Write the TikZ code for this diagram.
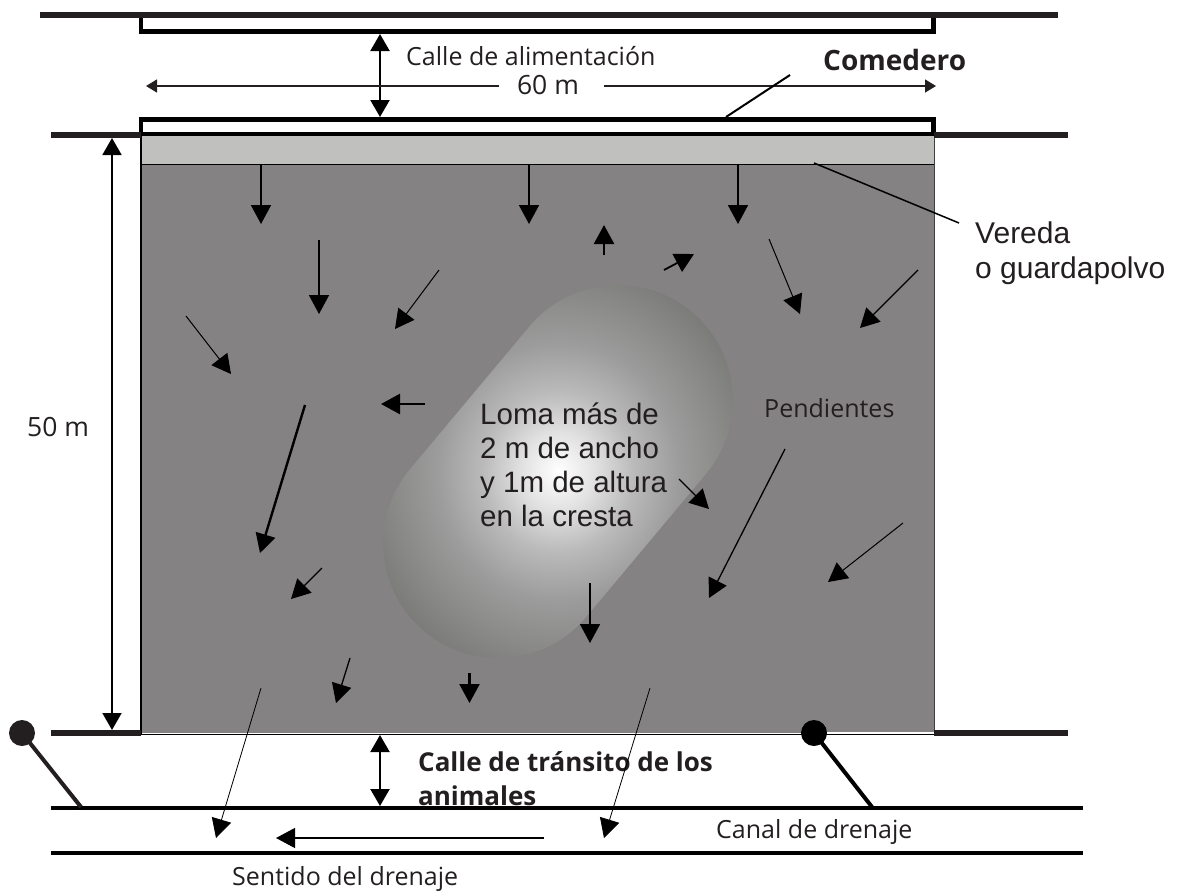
\documentclass[tikz,border=0pt]{standalone}
\usepackage{fontspec}
\setmainfont{Open Sans}
\newfontfamily\arialFont{Liberation Sans}
\usetikzlibrary{arrows.meta,positioning}
\definecolor{myInk}{HTML}{231F20}
\definecolor{myPen}{HTML}{848283}
\definecolor{myWalk}{HTML}{C0C0BE}
\definecolor{myMid}{HTML}{BABABA}
\definecolor{myEdge}{HTML}{9C9C9C}
\definecolor{myTip}{HTML}{747471}
\pgfdeclareradialshading{myLoma}{\pgfpoint{0bp}{0bp}}{color(0bp)=(white); color(5bp)=(white!88!black); color(10bp)=(myMid); color(16bp)=(myEdge); color(29bp)=(myTip); color(40bp)=(myTip)}

\begin{document}
\begin{tikzpicture}[x=1pt,y=-1pt,every text node part/.style={align=left}]
\tikzset{myRail/.style={draw=myInk,line width=6pt}}
\tikzset{myRoad/.style={draw=black,line width=4pt}}
\tikzset{myWall/.style={draw=black,line width=4.5pt,miter limit=10}}
\tikzset{myPost/.style={line width=4pt}}
\tikzset{myBig/.style={draw,line width=1.8pt,-{Triangle[length=19pt,width=20pt]}}}
\tikzset{myThin/.style={draw,line width=1pt,-{Triangle[length=19pt,width=20pt]}}}
\tikzset{myBoth/.style={draw,line width=2.2pt,{Triangle[length=17pt,width=19pt]}-{Triangle[length=17pt,width=19pt]}}}
\tikzset{myDim/.style={draw=myInk,line width=1.5pt,-{Triangle[length=11pt,width=13pt]}}}
\tikzset{myText/.style={text=myInk,inner sep=0pt,anchor=west,font=\fontsize{25}{30}\selectfont}}
\tikzset{myBold/.style={myText,font=\fontsize{26}{34}\selectfont\bfseries}}
\tikzset{myArial/.style={myText,font=\arialFont\fontsize{29.5}{34}\selectfont}}
\useasboundingbox (0,0) rectangle (1177,892);

% corral
\fill[myPen] (141,165) rectangle (934,733);
\fill[myWalk] (141,136) rectangle (934,164);
\path[shading=myLoma] (529,327) arc[start angle=219.4,end angle=399.4,radius=115] -- (587,616) arc[start angle=39.4,end angle=219.4,radius=115] -- cycle;
\draw[line width=1.6pt] (141,136) -- (141,734);
\draw[line width=1.6pt] (141,164.5) -- (934,164.5);
\draw[line width=1pt,draw=black!75] (934,136) -- (934,733);
\fill[white] (814,731.5) rectangle (934,734);
\draw[line width=1.5pt] (141,734.5) -- (934,734.5);

% comederos y calles
\draw[myWall] (141,16) -- (141,31.5) -- (933.5,31.5) -- (933.5,16);
\draw[myWall] (141,135) -- (141,119.5) -- (933.5,119.5) -- (933.5,135);
\draw[line width=4pt] (139,133.5) -- (936,133.5);
\path[myRail] (40,15) -- (1058,15);
\path[myRail] (51,135) -- (141,135);
\path[myRail] (934,135) -- (1068,135);
\path[myRail] (51,733) -- (141,733);
\path[myRail] (934,733) -- (1068,733);

% textos
\node[myText] (alimentacion) at (406,56) {Calle de alimentación};
\node[myText,anchor=center,font=\fontsize{26.5}{30}\selectfont] (ancho) at (548,85) {60 m};
\node[myBold,font=\fontsize{28}{34}\selectfont\bfseries] (comedero) at (823,60) {Comedero};
\node[myArial,anchor=north west,font=\arialFont\fontsize{30}{35}\selectfont] (vereda) at (975,222) {Vereda\\o guardapolvo};
\node[myArial,anchor=north west] (loma) at (480,403) {Loma más de\\2 m de ancho\\y 1m de altura\\en la cresta};
\node[myText] (pendientes) at (764,408) {Pendientes};
\node[myText,font=\fontsize{26.5}{30}\selectfont] (largo) at (27,427) {50 m};
\node[myBold,anchor=north west] (transito) at (418,751) {Calle de tránsito de los\\animales};
\node[myText] (canal) at (716,832) {Canal de drenaje};
\node[myText] (sentido) at (232,879) {Sentido del drenaje};
\path[myRoad] (51,808) -- (1083,808);
\path[myRoad] (51,853) -- (1083,853);

% postes
\path[draw=myInk,myPost] (22,733) -- (81,807);
\fill[myInk] (22,733) circle (13);
\path[draw=black,myPost] (814,733) -- (872,807);
\fill[black] (814,733) circle (13);

% medidas
\path[myBoth] (380,34) -- (380,117);
\path[myBoth] (380,735) -- (380,806);
\path[myBoth,line width=1.8pt] (112,138) -- (112,730);
\path[myDim] (499,86) -- (146,86);
\path[myDim] (604,86) -- (936,86);
\path[draw,line width=2pt] (790,75) -- (726,117);
\path[draw,line width=1.5pt] (814,163) -- (959,223);

% pendientes
\path[myBig] (261,165) -- (261,224);
\path[myBig] (529,165) -- (529,224);
\path[myBig] (738,165) -- (738,224);
\path[myBig] (319,240) -- (319,314);
\path[myThin] (439,270) -- (395,329);
\path[myThin] (186,316) -- (231,374);
\path[myBig,line width=2.4pt] (604,255) -- (604,225);
\path[myBig] (664,270) -- (694,254);
\path[myThin] (769,239) -- (800,314);
\path[myThin,line width=1.2pt] (918,270) -- (860,328);
\path[myBig,line width=2.4pt] (425,404) -- (381,404);
\path[myBig,line width=2.4pt] (305,405) -- (260,553);
\path[myThin,line width=1.3pt] (322,568) -- (291,599);
\path[myThin,line width=1.3pt] (785,449) -- (709,598);
\path[myThin] (903,523) -- (828,582);
\path[myThin,line width=1.3pt] (679,479) -- (709,509);
\path[myBig] (590,583) -- (590,643);
\path[myThin,line width=1.3pt] (350,658) -- (336,703);
\path[myBig,line width=2.4pt] (469.5,673) -- (469.5,703);
\path[myThin,line width=.8pt] (261,688) -- (216,838);
\path[myThin,line width=.8pt] (650,688) -- (604,838);
\path[myThin,line width=1.2pt] (544,838) -- (276,838);
\end{tikzpicture}
\end{document}
